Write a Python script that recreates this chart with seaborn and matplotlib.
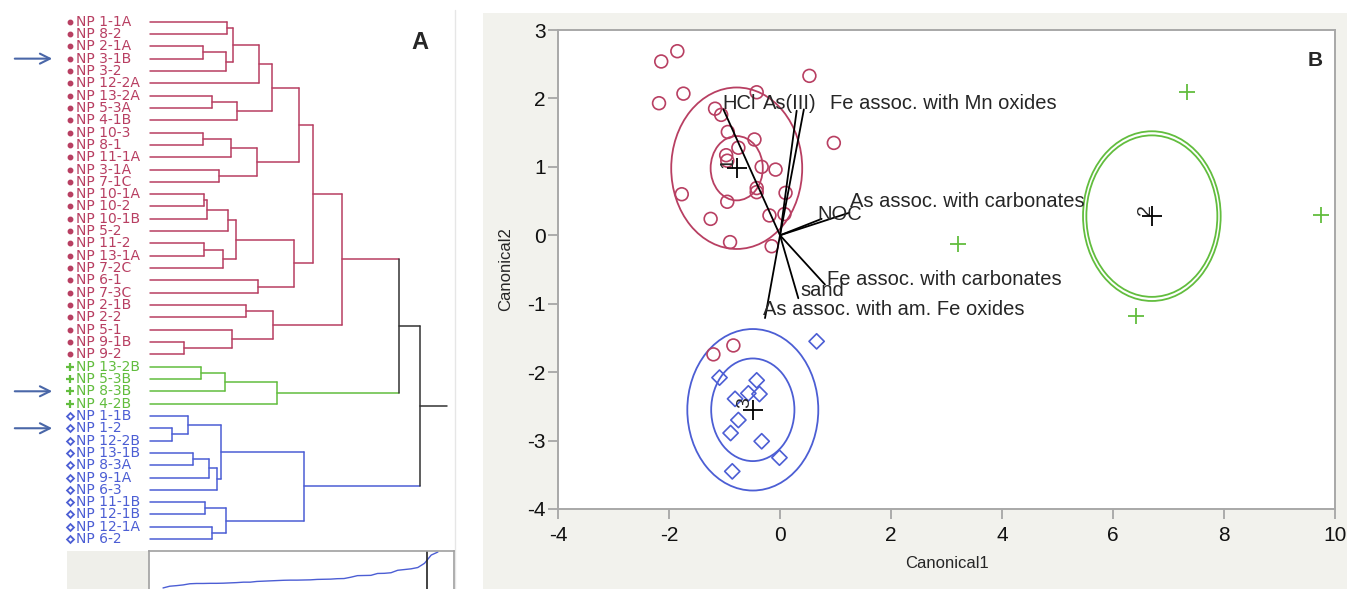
import numpy as np
import pandas as pd
import seaborn as sns
import matplotlib.pyplot as plt
from matplotlib.patches import Ellipse, Rectangle

sns.set_theme(style="white")
plt.rcParams['font.family'] = ['Liberation Sans', 'DejaVu Sans']
plt.rcParams['axes.unicode_minus'] = False

W, H = 1347, 589

# ---------------- panel A : cluster tree ----------------
leaves = ["NP 1-1A", "NP 8-2", "NP 2-1A", "NP 3-1B", "NP 3-2", "NP 12-2A", "NP 13-2A",
          "NP 5-3A", "NP 4-1B", "NP 10-3", "NP 8-1", "NP 11-1A", "NP 3-1A", "NP 7-1C",
          "NP 10-1A", "NP 10-2", "NP 10-1B", "NP 5-2", "NP 11-2", "NP 13-1A", "NP 7-2C",
          "NP 6-1", "NP 7-3C", "NP 2-1B", "NP 2-2", "NP 5-1", "NP 9-1B", "NP 9-2",
          "NP 13-2B", "NP 5-3B", "NP 8-3B", "NP 4-2B",
          "NP 1-1B", "NP 1-2", "NP 12-2B", "NP 13-1B", "NP 8-3A", "NP 9-1A", "NP 6-3",
          "NP 11-1B", "NP 12-1B", "NP 12-1A", "NP 6-2"]
leaf_group = [1] * 28 + [2] * 4 + [3] * 11
marked = ["NP 3-1B", "NP 8-3B", "NP 1-2"]

# (child a, child b, joining distance) ; new nodes numbered from len(leaves)
merges = [(0, 1, 0.77), (2, 3, 0.53), (44, 4, 0.76), (43, 45, 0.83), (46, 5, 1.09),
          (6, 7, 0.62), (48, 8, 0.87), (47, 49, 1.22), (9, 10, 0.53), (51, 11, 0.81),
          (12, 13, 0.69), (52, 53, 1.07), (50, 54, 1.49), (14, 15, 0.54), (56, 16, 0.57),
          (57, 17, 0.78), (18, 19, 0.54), (59, 20, 0.73), (58, 60, 0.86), (21, 22, 1.08),
          (61, 62, 1.44), (55, 63, 1.63), (23, 24, 0.96), (26, 27, 0.34), (25, 66, 0.82),
          (65, 67, 1.23), (64, 68, 1.92), (28, 29, 0.51), (70, 30, 0.75), (71, 31, 1.27),
          (69, 72, 2.49), (33, 34, 0.22), (32, 74, 0.38), (35, 36, 0.43), (76, 37, 0.59),
          (77, 38, 0.67), (75, 78, 0.71), (39, 40, 0.55), (41, 42, 0.62), (80, 81, 0.76),
          (79, 82, 1.54), (73, 83, 2.70)]

# ---------------- panel B : canonical plot ----------------
red_x = [-2.14, -1.85, -2.18, -1.74, -1.17, -1.06, -0.42, 0.53, 0.97, -0.94, -0.75, -0.46, -0.97, -0.95,
         -0.33, -0.08, -1.77, -0.42, -0.42, 0.10, -0.95, -1.25, -0.19, 0.08, -0.90, -0.15, -1.20, -0.84]
red_y = [2.54, 2.69, 1.93, 2.07, 1.85, 1.76, 2.09, 2.33, 1.35, 1.51, 1.28, 1.40, 1.17, 1.09,
         1.00, 0.96, 0.60, 0.69, 0.63, 0.62, 0.49, 0.24, 0.29, 0.31, -0.10, -0.16, -1.74, -1.61]
green_x = [7.33, 9.75, 3.21, 6.41]
green_y = [2.09, 0.29, -0.13, -1.18]
blue_x = [0.66, -1.09, -0.42, -0.37, -0.57, -0.81, -0.75, -0.89, -0.33, -0.01, -0.86]
blue_y = [-1.55, -2.08, -2.12, -2.32, -2.31, -2.39, -2.70, -2.89, -3.01, -3.25, -3.45]

center_x = [-0.78, 6.70, -0.49]
center_y = [0.98, 0.28, -2.55]
ci_radius = [0.47, 1.24, 0.75]
region_radius = 1.18
num_x = [-0.93, 6.58, -0.63]
num_y = [1.06, 0.38, -2.45]

ray_x = [-1.02, 0.30, 0.43, 0.75, 1.25, 0.81, 0.33, -0.27]
ray_y = [1.84, 1.82, 1.84, 0.24, 0.33, -0.72, -0.92, -1.21]
ray_names = ["HCl", "As(III)", "Fe assoc. with Mn oxides", "NOC", "As assoc. with carbonates",
             "Fe assoc. with carbonates", "sand", "As assoc. with am. Fe oxides"]
name_x = [-1.03, -0.31, 0.90, 0.68, 1.26, 0.84, 0.36, -0.30]
name_y = [1.93, 1.93, 1.93, 0.31, 0.50, -0.65, -0.81, -1.09]

colors = {1: "#b83f62", 2: "#62bd3e", 3: "#4c5ed4", 0: "#333333"}


def box(x0, y0, x1, y1):
    return [x0 / W, 1 - y1 / H, (x1 - x0) / W, (y1 - y0) / H]


fig = plt.figure(figsize=(W / 100, H / 100), dpi=100)
fig.patch.set_facecolor("white")
fig.add_artist(Rectangle((483 / W, 0), 1 - 483 / W, 1 - 13 / H, transform=fig.transFigure,
                         facecolor="#f2f2ed", edgecolor="none", zorder=-10))
fig.add_artist(Rectangle((67 / W, 0), 82 / W, (589 - 551) / H, transform=fig.transFigure,
                         facecolor="#efefea", edgecolor="none", zorder=-10))
fig.add_artist(plt.Line2D([455 / W] * 2, [0, 1 - 10 / H], transform=fig.transFigure,
                          color="#e6e6e6", lw=1, zorder=-9))

# ---- dendrogram ----
axd = fig.add_axes(box(0, 0, 455, 548))
axd.set_xlim(-1.5, 3.05)
axd.set_ylim(42.72, -1.76)
axd.axis("off")

n = len(leaves)
ypos = {i: float(i) for i in range(n)}
xpos = {i: 0.0 for i in range(n)}
grp = {i: leaf_group[i] for i in range(n)}
for k, (a, b, h) in enumerate(merges):
    node = n + k
    g = grp[a] if grp[a] == grp[b] else 0
    for c in (a, b):
        axd.plot([xpos[c], h], [ypos[c], ypos[c]], color=colors[grp[c]], lw=1.1)
    axd.plot([h, h], [ypos[a], ypos[b]], color=colors[g], lw=1.1)
    ypos[node] = (ypos[a] + ypos[b]) / 2
    xpos[node] = h
    grp[node] = g
root = n + len(merges) - 1
axd.plot([xpos[root], xpos[root] + 0.27], [ypos[root]] * 2, color=colors[0], lw=1.1)

leaf_marker = {1: dict(marker="o", ms=3.2, mfc=colors[1], mec=colors[1]),
               2: dict(marker="+", ms=6, mew=1.6, color=colors[2]),
               3: dict(marker="D", ms=3.5, mfc="white", mec=colors[3], mew=1.3)}
for i, name in enumerate(leaves):
    g = leaf_group[i]
    axd.plot([-0.80], [i], linestyle="none", **leaf_marker[g])
    axd.text(-0.745, i, name, color=colors[g], fontsize=10, va="center", ha="left",
             family="DejaVu Sans")
    if name in marked:
        axd.annotate("", xy=(-0.95, i), xytext=(-1.38, i),
                     arrowprops=dict(arrowstyle="->,head_length=0.6,head_width=0.3",
                                     color="#4a67a8", lw=1.5))
axd.text(2.70, 1.65, "A", fontsize=17, fontweight="bold", ha="center", va="center")

# ---- distance graph under the tree ----
axg = fig.add_axes(box(149, 551, 454, 620))
heights = np.sort([m[2] for m in merges])
sns.lineplot(x=np.arange(len(heights)), y=heights, ax=axg, color="#4c5ed4", lw=1)
axg.axvline(len(heights) - 2.7, color="#222222", lw=1.2)
axg.set_xlim(-2.09, 43.4)
axg.set_ylim(-1.99, 2.77)
axg.set_xticks([])
axg.set_yticks([])
axg.set_facecolor("white")
for s in axg.spines.values():
    s.set_color("#a0a0a0")
    s.set_linewidth(1.2)

# ---- canonical plot ----
ax = fig.add_axes(box(558, 30, 1335, 509))
ax.set_facecolor("white")
pts = pd.DataFrame({
    "Canonical1": red_x + green_x + blue_x,
    "Canonical2": red_y + green_y + blue_y,
    "cluster": [1] * len(red_x) + [2] * len(green_x) + [3] * len(blue_x),
})
sns.scatterplot(data=pts[pts.cluster == 1], x="Canonical1", y="Canonical2", ax=ax,
                marker="o", s=85, facecolor="none", edgecolor=colors[1], linewidth=1.2, zorder=3)
sns.scatterplot(data=pts[pts.cluster == 2], x="Canonical1", y="Canonical2", ax=ax,
                marker="+", s=130, color=colors[2], linewidth=1.3, zorder=3)
sns.scatterplot(data=pts[pts.cluster == 3], x="Canonical1", y="Canonical2", ax=ax,
                marker="D", s=60, facecolor="none", edgecolor=colors[3], linewidth=1.2, zorder=3)

for g in range(3):
    col = colors[g + 1]
    for r in (ci_radius[g], region_radius):
        ax.add_patch(Ellipse((center_x[g], center_y[g]), 2 * r, 2 * r, fill=False,
                             edgecolor=col, lw=1.3, zorder=2))
    ax.text(num_x[g], num_y[g], str(g + 1), fontsize=14, rotation=90, ha="center",
            va="center", zorder=4)
sns.scatterplot(x=center_x, y=center_y, ax=ax, marker="+", s=220, color="black",
                linewidth=1.3, zorder=5)

for rx, ry in zip(ray_x, ray_y):
    ax.plot([0, rx], [0, ry], color="black", lw=1.3, zorder=4)
for nm, tx, ty in zip(ray_names, name_x, name_y):
    ax.text(tx, ty, nm, fontsize=14.5, ha="left", va="center", zorder=6)

ax.text(0.974, 0.937, "B", transform=ax.transAxes, fontsize=15, fontweight="bold",
        ha="center", va="center")

ax.set_xlim(-4, 10)
ax.set_ylim(-4, 3)
ax.set_xticks(range(-4, 11, 2))
ax.set_yticks(range(-4, 4))
ax.tick_params(axis="both", direction="out", length=7, width=1.2, color="#a0a0a0",
               labelsize=15, labelcolor="#111111")
ax.tick_params(axis="x", pad=5, bottom=True)
ax.tick_params(axis="y", pad=2, left=True)
for s in ax.spines.values():
    s.set_color("#a8a8a8")
    s.set_linewidth(1.4)
ax.set_xlabel("Canonical1", fontsize=12, labelpad=8)
ax.set_ylabel("Canonical2", fontsize=12, labelpad=10)

fig.savefig("out.png", dpi=100)
